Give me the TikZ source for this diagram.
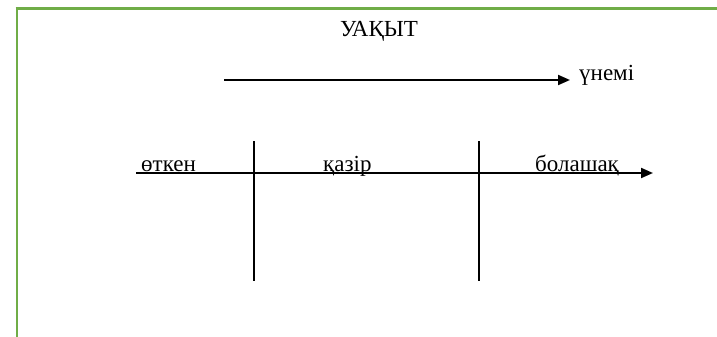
\documentclass[tikz,border=0pt]{standalone}
\usepackage{fontspec}
\setmainfont{Liberation Serif}
\usetikzlibrary{arrows.meta}
\definecolor{framegreen}{RGB}{112,173,71}
\begin{document}
\begin{tikzpicture}[x=1pt,y=-1pt,
  lbl/.style={font=\fontsize{23}{26}\selectfont, inner sep=0pt},
  axis/.style={line width=2pt, -{Triangle[length=12pt,width=10pt]}},
  tick/.style={line width=1.1pt},
  frame/.style={draw=framegreen, line width=2.6pt}]
  \useasboundingbox (0,0) rectangle (717,337);
  % green frame along the top and left edges
  \draw[frame] (15.7,8.5) -- (717,8.5);
  \draw[frame] (17,8.5) -- (17,337);
  % title
  \node[lbl, anchor=base] (title) at (379,37) {УАҚЫТ};
  % upper arrow: "always"
  \coordinate (u0) at (224,80);
  \node[lbl, anchor=base west] (always) at (579,81) {үнемі};
  \draw[axis] (u0) -- (570,80);
  % time axis with its three segments
  \coordinate (t0) at (136,173);
  \coordinate (t1) at (653,173);
  \draw[axis] (t0) -- (t1);
  \coordinate (v1a) at (254,141);
  \coordinate (v1b) at (254,281);
  \coordinate (v2a) at (479,141);
  \coordinate (v2b) at (479,281);
  \draw[tick] (v1a) -- (v1b);
  \draw[tick] (v2a) -- (v2b);
  \node[lbl, anchor=base west] (past) at (141,171) {өткен};
  \node[lbl, anchor=base west] (now) at (323,171) {қазір};
  \node[lbl, anchor=base west] (future) at (535,171) {болашақ};
\end{tikzpicture}
\end{document}
